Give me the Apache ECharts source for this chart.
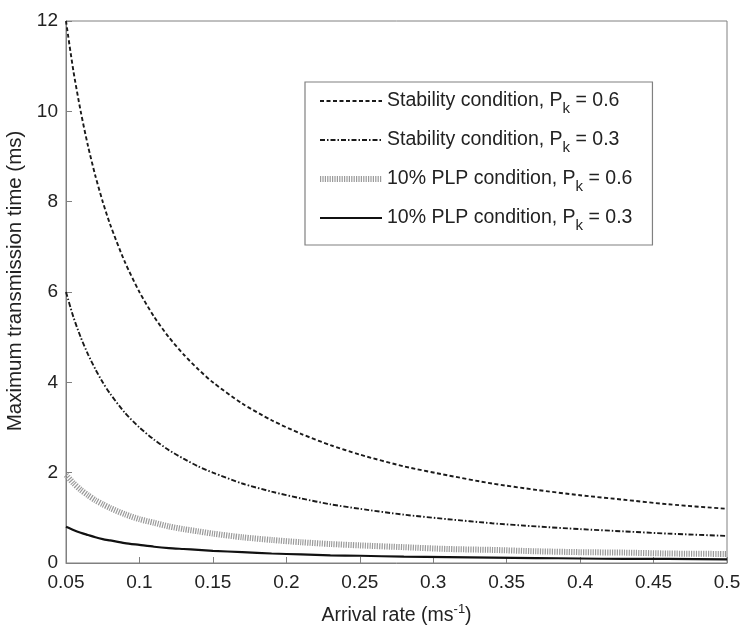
<!DOCTYPE html>
<html><head><meta charset="utf-8">
<script src="https://cdn.jsdelivr.net/npm/echarts@6/dist/echarts.min.js"></script>
<style>html,body{margin:0;padding:0;background:#fff}#c{width:742px;height:626px}</style>
</head><body><div id="c"></div>
<script>
const arrivalRate = [0.05,0.055,0.06,0.065,0.07,0.075,0.08,0.09,0.1,0.11,0.12,0.13,0.14,0.15,0.17,0.19,0.21,0.23,0.25,0.28,0.31,0.34,0.37,0.4,0.43,0.46,0.5];
const stability06 = [12,10.9,10,9.23,8.57,8,7.5,6.67,6,5.45,5,4.62,4.29,4,3.53,3.16,2.86,2.61,2.4,2.14,1.94,1.76,1.62,1.5,1.4,1.3,1.2];
const stability03 = [6,5.45,5,4.62,4.29,4,3.75,3.33,3,2.73,2.5,2.31,2.14,2,1.76,1.58,1.43,1.3,1.2,1.07,0.97,0.88,0.81,0.75,0.7,0.65,0.6];
const plp06 = [1.95,1.77,1.62,1.5,1.39,1.3,1.22,1.08,0.97,0.89,0.81,0.75,0.7,0.65,0.57,0.51,0.46,0.42,0.39,0.35,0.31,0.29,0.26,0.24,0.23,0.21,0.2];
const plp03 = [0.8,0.73,0.67,0.62,0.57,0.53,0.5,0.44,0.4,0.36,0.33,0.31,0.29,0.27,0.24,0.21,0.19,0.17,0.16,0.14,0.13,0.12,0.11,0.1,0.09,0.09,0.08];
const seriesNames = ['Stability condition, P|k|0.6','Stability condition, P|k|0.3','10% PLP condition, P|k|0.6','10% PLP condition, P|k|0.3'];
const xTicks = ['0.05','0.1','0.15','0.2','0.25','0.3','0.35','0.4','0.45','0.5'];

const pair = arr => arrivalRate.map((x,i)=>[x,arr[i]]);
const chart = echarts.init(document.getElementById('c'));
const font = 'Arial, "Liberation Sans", sans-serif';
const styles = [
  {color:'#1a1a1a', width:1.9, type:[4,2.5]},
  {color:'#1a1a1a', width:1.9, type:[5,2,1.5,2]},
  {color:'#9a9a9a', width:6, type:[1.2,1.2]},
  {color:'#111', width:2.2, type:'solid'}
];
const datas = [stability06, stability03, plp06, plp03];
chart.setOption({
  animation:false,
  textStyle:{fontFamily:font},
  grid:{left:66,right:15,top:21,bottom:63,show:true,borderColor:'#808080',borderWidth:1,outerBoundsMode:'none',containLabel:false},
  legend:{
    left:305, top:82, orient:'vertical', itemWidth:62, itemHeight:14, itemGap:14,
    padding:[9,20,12,12], borderColor:'#808080', borderWidth:1.2, backgroundColor:'#fff',
    itemStyle:{opacity:0, borderWidth:0},
    data: seriesNames.map((n,i)=>({name:n, lineStyle:{width:styles[i].width, type:styles[i].type, color:styles[i].color}})),
    formatter: name => { const p=name.split('|'); return '{a|'+p[0]+'}{s|'+p[1]+'}{a| = '+p[2]+'}'; },
    textStyle:{color:'#222', fontFamily:font, rich:{
      a:{fontSize:19.5, color:'#222', fontFamily:font},
      s:{fontSize:15, color:'#222', fontFamily:font, padding:[15,0,0,0]}
    }}
  },
  xAxis:{type:'value', min:0.05, max:0.5, interval:0.05,
    name:'Arrival rate (ms{sup|-1})', nameLocation:'middle', nameGap:40,
    nameTextStyle:{fontSize:19.5, color:'#222', fontFamily:font, rich:{sup:{fontSize:13, color:'#222', padding:[0,0,12,0]}}},
    axisLine:{lineStyle:{color:'#808080'}}, axisTick:{inside:true, length:6, lineStyle:{color:'#808080'}},
    splitLine:{show:false},
    axisLabel:{fontSize:19, color:'#222', margin:10, formatter:v=>{const s=xTicks.find(t=>Math.abs(parseFloat(t)-v)<1e-6);return s||'';}}
  },
  yAxis:{type:'value', min:0, max:12, interval:2,
    name:'Maximum transmission time (ms)', nameLocation:'middle', nameGap:38,
    nameTextStyle:{fontSize:20.5, color:'#222', fontFamily:font, padding:[0,0,0,22]},
    axisLine:{show:true, lineStyle:{color:'#808080'}}, axisTick:{show:true, inside:true, length:6, lineStyle:{color:'#808080'}},
    splitLine:{show:false},
    axisLabel:{fontSize:19, color:'#222', margin:8}
  },
  series: datas.map((d,i)=>({
    name:seriesNames[i], type:'line', data:pair(d), showSymbol:false, symbol:'none',
    smooth:0.25, lineStyle:styles[i], itemStyle:{color:styles[i].color}, z: 4-i
  }))
});
</script></body></html>
